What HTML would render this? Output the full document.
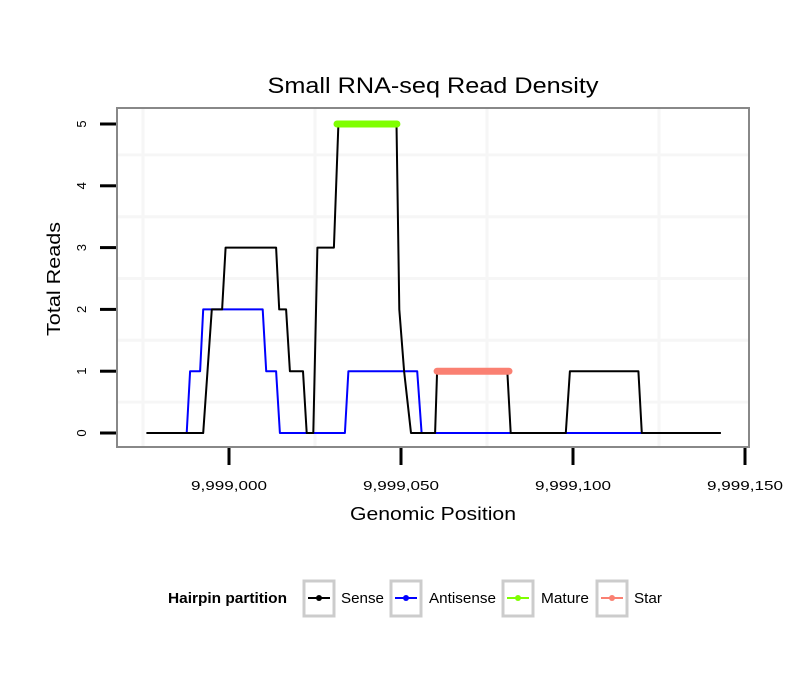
<!DOCTYPE html>
<html><head><meta charset="utf-8"><style>
body{margin:0;background:#fff;width:810px;height:690px;overflow:hidden}
text{font-family:"Liberation Sans",sans-serif}
</style></head><body>
<svg id="chart" width="810" height="690">
<text x="433" y="93" text-anchor="middle" font-size="22" textLength="331" lengthAdjust="spacingAndGlyphs">Small RNA-seq Read Density</text>
<rect x="117" y="108" width="632" height="339" fill="#fff"/>
<g id="grid"></g>
<g id="series"></g>
<rect x="117" y="108" width="632" height="339" fill="none" stroke="#888" stroke-width="2"/>
<g id="axes"></g>
<text x="433" y="520" text-anchor="middle" font-size="18" textLength="166" lengthAdjust="spacingAndGlyphs">Genomic Position</text>
<text transform="translate(60,279) rotate(-90)" text-anchor="middle" font-size="18" textLength="114" lengthAdjust="spacingAndGlyphs">Total Reads</text>
<g>
<text x="168" y="603" font-size="15" font-weight="bold" textLength="119" lengthAdjust="spacingAndGlyphs">Hairpin partition</text>
<g><rect x="304" y="581" width="30" height="35" fill="#fff" stroke="#ccc" stroke-width="3"/><line x1="308" x2="330" y1="598" y2="598" stroke="#000" stroke-width="2"/><circle cx="319" cy="598" r="3" fill="#000"/><text x="341" y="603" font-size="15" textLength="43" lengthAdjust="spacingAndGlyphs">Sense</text></g>
<g><rect x="391" y="581" width="30" height="35" fill="#fff" stroke="#ccc" stroke-width="3"/><line x1="395" x2="417" y1="598" y2="598" stroke="#00f" stroke-width="2"/><circle cx="406" cy="598" r="3" fill="#00f"/><text x="429" y="603" font-size="15" textLength="67" lengthAdjust="spacingAndGlyphs">Antisense</text></g>
<g><rect x="503" y="581" width="30" height="35" fill="#fff" stroke="#ccc" stroke-width="3"/><line x1="507" x2="529" y1="598" y2="598" stroke="#7fff00" stroke-width="2"/><circle cx="518" cy="598" r="3" fill="#7fff00"/><text x="541" y="603" font-size="15" textLength="48" lengthAdjust="spacingAndGlyphs">Mature</text></g>
<g><rect x="597" y="581" width="30" height="35" fill="#fff" stroke="#ccc" stroke-width="3"/><line x1="601" x2="623" y1="598" y2="598" stroke="#fa8072" stroke-width="2"/><circle cx="612" cy="598" r="3" fill="#fa8072"/><text x="634" y="603" font-size="15" textLength="28" lengthAdjust="spacingAndGlyphs">Star</text></g>
</g>
</svg>
<script>
const BASE = 9999000;
const xTicks = [9999000, 9999050, 9999100, 9999150];
const xTickLabels = ["9,999,000", "9,999,050", "9,999,100", "9,999,150"];
const yTicks = [0, 1, 2, 3, 4, 5];
const xMinor = [9998975, 9999025, 9999075, 9999125];
const yMinor = [0.5, 1.5, 2.5, 3.5, 4.5];
const senseX = [-24,-7.5,-5,-2,-1,13.7,14.6,16.6,17.7,21.5,22.6,24.5,25.7,30.5,31.8,48.7,49.5,50.9,52.9,59.9,60.5,80.9,81.9,97.9,99.1,119,120,143];
const senseY = [0,0,2,2,3,3,2,2,1,1,0,0,3,3,5,5,2,1,0,0,1,1,0,0,1,1,0,0];
const antiX = [-12.3,-11.3,-8.4,-7.5,9.8,10.8,13.7,14.8,33.7,34.7,54.7,56,120];
const antiY = [0,1,1,2,2,1,1,0,0,1,1,0,0];
const matureX = [31.4, 48.8];
const matureY = [5, 5];
const starX = [60.5, 81.4];
const starY = [1, 1];

const sx = p => 229 + (p - BASE) * 3.44;
const sxo = o => sx(BASE + o);
const sy = v => 433 - v * 61.8;
const NS = "http://www.w3.org/2000/svg";
function mk(tag, attrs, parent){const e=document.createElementNS(NS,tag);for(const k in attrs)e.setAttribute(k,attrs[k]);parent.appendChild(e);return e;}
const grid=document.getElementById('grid'), series=document.getElementById('series'), axes=document.getElementById('axes');
xMinor.forEach(v=>{const l=mk('line',{x1:sx(v),x2:sx(v),y1:109,y2:446,stroke:'#f6f6f6','stroke-width':3},grid);

});
yMinor.forEach(v=>{const l=mk('line',{x1:118,x2:748,y1:sy(v),y2:sy(v),stroke:'#f6f6f6','stroke-width':3},grid);

});
function path(xs, ys, color, w, name, cap){
 const d = xs.map((x,i)=>(i?'L':'M')+sxo(x).toFixed(1)+','+sy(ys[i]).toFixed(1)).join('');
 const p = mk('path',{d:d,fill:'none',stroke:color,'stroke-width':w,'stroke-linejoin':'round','stroke-linecap':cap},series);
 
 
}
path(antiX, antiY, '#00f', 2, 'antisense-line', 'butt');
path(senseX, senseY, '#000', 2, 'sense-line', 'butt');
path(matureX, matureY, '#7fff00', 7, 'mature-line', 'round');
path(starX, starY, '#fa8072', 7, 'star-line', 'round');
xTicks.forEach((v,i)=>{
 const t=mk('line',{x1:sx(v),x2:sx(v),y1:448,y2:465,stroke:'#000','stroke-width':3},axes);
 
 
 const tx=mk('text',{x:sx(v),y:490,'text-anchor':'middle','font-size':13,textLength:76,lengthAdjust:'spacingAndGlyphs'},axes);
 tx.textContent=xTickLabels[i];
 
 
});
yTicks.forEach(v=>{
 const t=mk('line',{x1:100,x2:116,y1:sy(v),y2:sy(v),stroke:'#000','stroke-width':3},axes);
 
 
 const tx=mk('text',{transform:`translate(86,${sy(v)}) rotate(-90)`,'text-anchor':'middle','font-size':13},axes);
 tx.textContent=String(v);
 
 
});
</script>
</body></html>
